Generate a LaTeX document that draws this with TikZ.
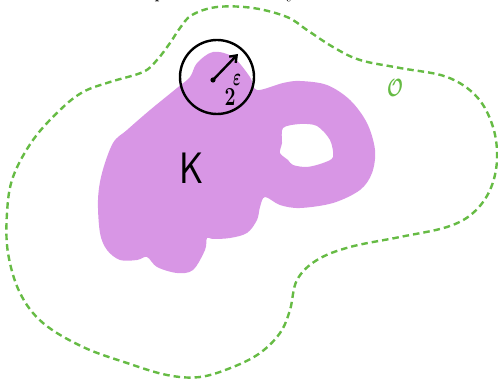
\documentclass[tikz,border=0pt]{standalone}
\usepackage{bm}
\usetikzlibrary{arrows.meta}
\definecolor{setgreen}{RGB}{102,187,68}
\definecolor{blobpurple}{RGB}{216,150,229}
\begin{document}
\begin{tikzpicture}[x=1pt,y=-1pt,
  openset/.style={draw=setgreen,line width=2.4pt,dash pattern=on 6.5pt off 4pt},
  compactset/.style={fill=blobpurple,even odd rule},
  ballline/.style={draw=black,line width=2.4pt},
  radline/.style={draw=black,line width=2.4pt,-{Straight Barb[length=6pt,width=9pt]}},
  lbl/.style={inner sep=0pt}]
\useasboundingbox (0,0) rectangle (498,382);
% cut-off title fragments
\node[lbl,anchor=base,font=\fontsize{22}{26}\selectfont] (tp) at (160,-2) {p};
\node[lbl,anchor=base,font=\fontsize{22}{26}\selectfont] (ty) at (292,-2.5) {y};
% open set O
\draw[openset] plot[smooth cycle,tension=0.6] coordinates {
 (180,28) (192,15) (217,7) (253,8) (287,17) (307,30) (333,47) (360,60) (400,68)
 (447,77) (477,97) (493,127) (497,160) (490,190) (473,213) (447,227) (400,237)
 (350,247) (317,260) (297,280) (290,310) (280,333) (260,353) (233,367) (200,377)
 (167,375) (127,363) (83,347) (43,323) (20,293) (8,253) (7,213) (13,177) (33,140)
 (60,110) (83,92) (110,82) (143,72) (157,60) (170,43)};
% compact set K
\fill[compactset] plot[smooth cycle,tension=0.55] coordinates {
 (197,63) (213,52) (233,57) (250,77) (257,90) (283,83) (300,81) (327,85) (350,100)
 (367,123) (375,150) (372,173) (360,190) (333,203) (300,208) (280,205) (265,197)
 (260,207) (257,220) (247,233) (230,238) (213,239) (207,238) (205,250) (193,270) (177,273)
 (157,267) (147,257) (137,260) (120,260) (107,250) (100,233) (98,200) (102,173)
 (113,143) (127,130) (150,110) (177,88) (190,77)}
 plot[smooth cycle,tension=0.5] coordinates {
 (283,128) (300,124) (317,126) (330,140) (333,157) (323,163) (307,167) (293,165)
 (288,160) (280,153) (282,143)};
% ball
\node[ballline,circle,minimum size=74pt,inner sep=0pt] (B) at (217,77) {};
\coordinate (ctr) at (213,80);
\coordinate (rad) at (238,54);
\fill (ctr) circle[radius=2.6pt];
\draw[radline] (ctr) -- (rad);
\node[lbl,font=\fontsize{26}{26}\selectfont] (epsl) at (237,80) {\scalebox{0.6}[1]{$\bm{\varepsilon}$}};
\node[lbl,font=\fontsize{26}{26}\selectfont\bfseries] (two) at (230,97) {\scalebox{0.75}[1]{2}};
% labels
\node[lbl,font=\fontsize{44}{44}\sffamily\selectfont] (K) at (192,168) {\scalebox{0.85}[1]{K}};
\node[lbl,text=setgreen,font=\fontsize{42}{42}\selectfont] (O) at (395,88) {\scalebox{0.68}[1]{$\bm{\mathcal{O}}$}};
\end{tikzpicture}
\end{document}
